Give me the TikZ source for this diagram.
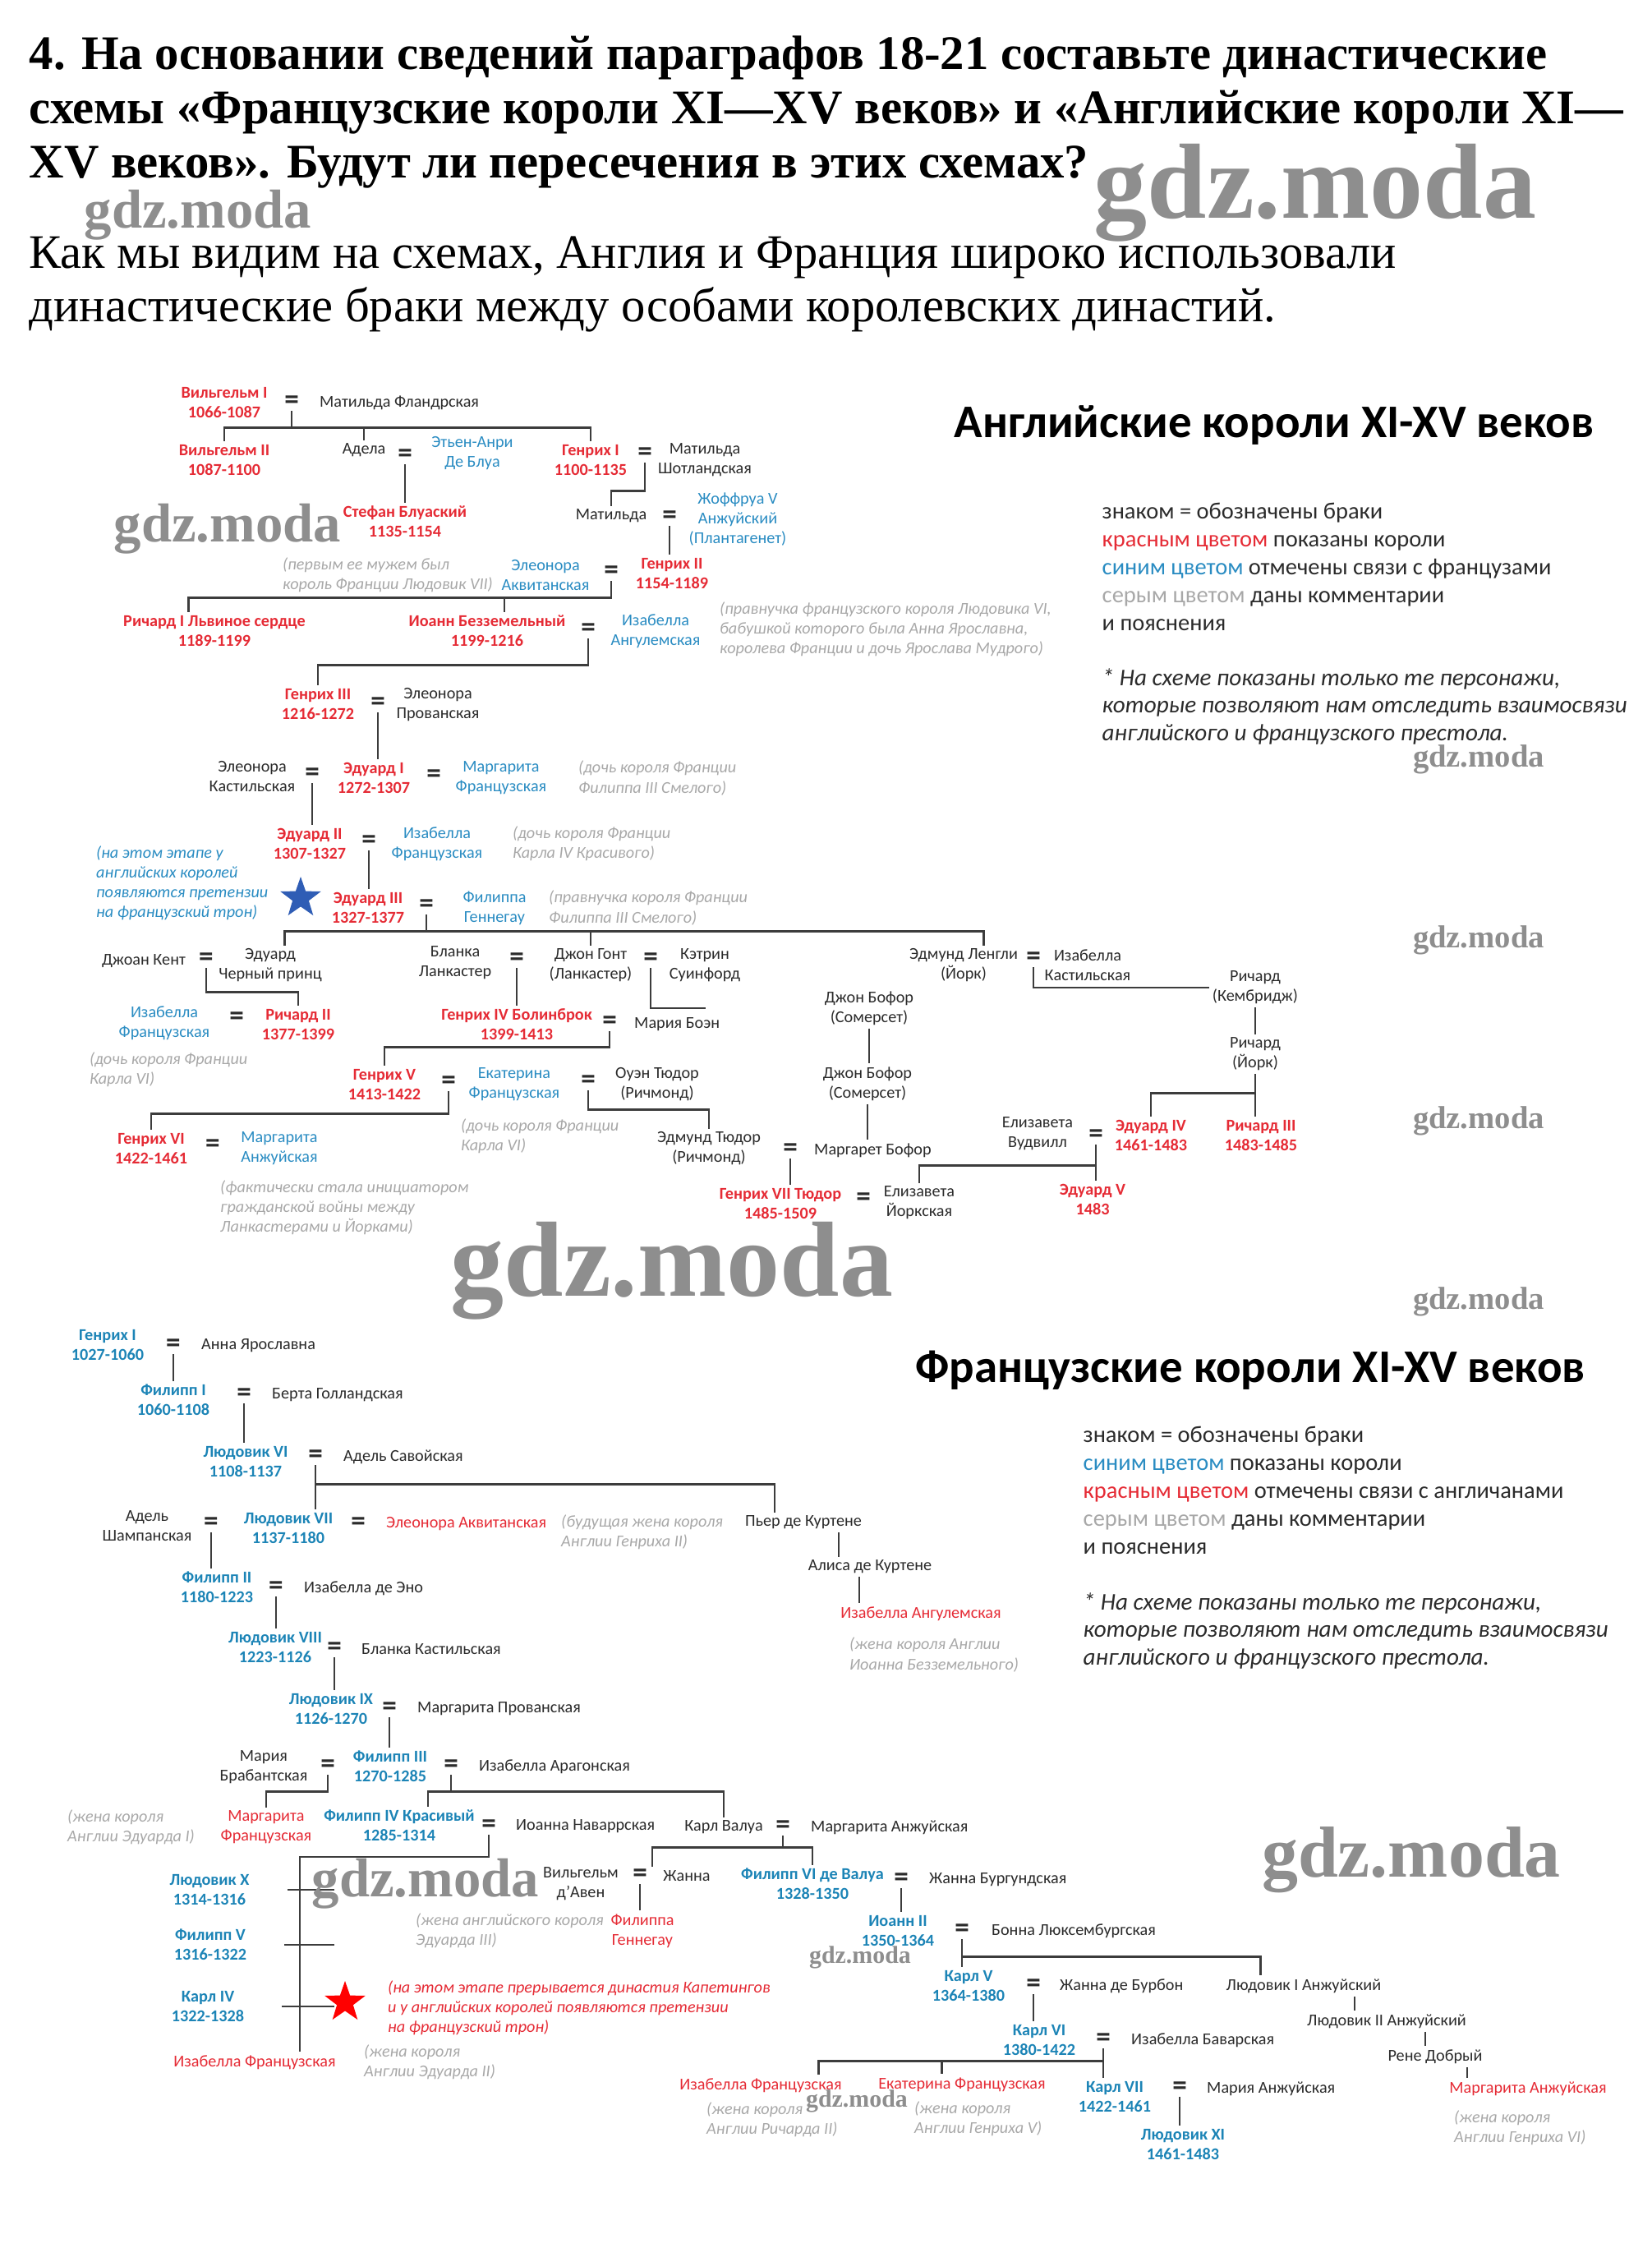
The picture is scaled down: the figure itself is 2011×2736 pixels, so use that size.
\documentclass[tikz,border=0pt]{standalone}
\usepackage{fontspec}
\setmainfont{Liberation Serif}
\newfontfamily\calib{Carlito}
\usepackage{xcolor}
\usepackage{tikz}
\usetikzlibrary{positioning, calc, shapes.geometric}

\definecolor{kred}{HTML}{E52B35}
\definecolor{kblue}{HTML}{2A8CC2}
\definecolor{fblue}{HTML}{1C84B6}
\definecolor{remarkgray}{HTML}{A8A8A8}
\definecolor{ink}{HTML}{2B2B2B}
\definecolor{linegray}{HTML}{3C3C3C}
\definecolor{starblue}{HTML}{2F5DB5}
\definecolor{stampgray}{HTML}{8E8E8E}

\newcommand\treesize{\fontsize{5.75}{6.85}\selectfont}

\begin{document}
\begin{tikzpicture}[x=0.1mm, y=-0.1mm]

% Styles
\tikzset{
	king/.style={font=\calib\bfseries\treesize, text=kred, align=center, inner sep=1pt},
	fking/.style={font=\calib\bfseries\treesize, text=fblue, align=center, inner sep=1pt},
	person/.style={font=\calib\treesize, text=ink, align=center, inner sep=1pt},
	tieblue/.style={person, text=kblue},
	tiered/.style={person, text=kred},
	remark/.style={font=\calib\itshape\treesize, text=remarkgray, align=left, anchor=west, inner sep=1pt},
	wed/.style={font=\calib\bfseries\fontsize{10}{10}\selectfont, text=ink, inner sep=0.5pt},
	kin/.style={draw=linegray, line width=0.75pt},
	heading/.style={font=\bfseries\fontsize{16.7}{18}\selectfont, anchor=base west, inner sep=0pt},
	bodytext/.style={font=\fontsize{16.65}{18}\selectfont, anchor=base west, inner sep=0pt},
	charttitle/.style={font=\calib\bfseries\fontsize{16.2}{18}\selectfont, text=black, inner sep=0pt},
	legend/.style={font=\calib\fontsize{8.1}{9.7}\selectfont, text=ink, align=left, anchor=west, inner sep=0pt},
	footnote/.style={font=\calib\itshape\fontsize{8.3}{9.4}\selectfont, text=ink, align=left, anchor=west, inner sep=0pt},
	stamp/.style={font=\bfseries, text=stampgray, inner sep=0pt},
	crown/.style={star, star points=5, star point ratio=2.5, minimum size=5.2mm, inner sep=0pt}
}

\useasboundingbox (0,0) rectangle (2011,2736);

% Question and answer
\node (q1) [heading] at (35,84) {4. На основании сведений параграфов 18-21 составьте династические};
\node (q2) [heading] at (35,150) {схемы «Французские короли XI—XV веков» и «Английские короли XI—};
\node (q3) [heading] at (35,216) {XV веков». Будут ли пересечения в этих схемах?};
\node (a1) [bodytext] at (35,326) {Как мы видим на схемах, Англия и Франция широко использовали};
\node (a2) [bodytext] at (35,391) {династические браки между особами королевских династий.};

% English chart: title and legend
\node (etitle) [charttitle] at (1551,518) {Английские короли XI-XV веков};
\node (elegend) [legend] at (1341,690) {знаком = обозначены браки\\
	\textcolor{kred}{красным цветом} показаны короли\\
	\textcolor{kblue}{синим цветом} отмечены связи с французами\\
	\textcolor{remarkgray}{серым цветом} даны комментарии\\
	и пояснения};
\node (enote) [footnote] at (1341,860) {* На схеме показаны только те персонажи,\\
	которые позволяют нам отследить взаимосвязи\\
	английского и французского престола.};

% Normans
\node (ewil1) [king] at (273,490) {Вильгельм I\\1066-1087};
\node (eqW1) [wed] at (355,490) {=};
\node (emfl) [person, anchor=west] at (385,490) {Матильда Фландрская};
\node (ewil2) [king] at (273,560) {Вильгельм II\\1087-1100};
\node (eadela) [person] at (443,548) {Адела};
\node (eqAd) [wed] at (493,555) {=};
\node (eetien) [tieblue] at (575,552) {Этьен-Анри\\Де Блуа};
\node (estef) [king] at (493,635) {Стефан Блуаский\\1135-1154};
\node (ehen1) [king] at (719,560) {Генрих I\\1100-1135};
\node (eqH1) [wed] at (785,553) {=};
\node (emsco) [person] at (858,560) {Матильда\\Шотландская};
\node (emat) [person] at (744,628) {Матильда};
\node (eqMat) [wed] at (815,630) {=};
\node (egeof) [tieblue] at (898,632) {Жоффруа V\\Анжуйский\\(Плантагенет)};

% Plantagenets
\node (ehen2) [king] at (818,698) {Генрих II\\1154-1189};
\node (eqH2) [wed] at (744,697) {=};
\node (eelea) [tieblue] at (664,700) {Элеонора\\Аквитанская};
\node (eremA) [remark] at (340,700) {(первым ее мужем был\\король Франции Людовик VII)};
\node (eric1) [king] at (261,768) {Ричард I Львиное сердце\\1189-1199};
\node (ejohn) [king] at (593,768) {Иоанн Безземельный\\1199-1216};
\node (eqJohn) [wed] at (716,767) {=};
\node (eisang) [tieblue] at (798,768) {Изабелла\\Ангулемская};
\node (eremB) [remark] at (872,766) {(правнучка французского короля Людовика VI,\\бабушкой которого была Анна Ярославна,\\королева Франции и дочь Ярослава Мудрого)};
\node (ehen3) [king] at (387,857) {Генрих III\\1216-1272};
\node (eqH3) [wed] at (460,857) {=};
\node (eelprov) [person] at (533,858) {Элеонора\\Прованская};
\node (eelcas) [person] at (307,945) {Элеонора\\Кастильская};
\node (eqE1L) [wed] at (380,943) {=};
\node (eed1) [king] at (455,947) {Эдуард I\\1272-1307};
\node (eqE1R) [wed] at (528,945) {=};
\node (emarfr) [tieblue] at (610,947) {Маргарита\\Французская};
\node (eremC) [remark] at (700,947) {(дочь короля Франции\\Филиппа III Смелого)};
\node (eed2) [king] at (377,1027) {Эдуард II\\1307-1327};
\node (eqE2) [wed] at (449,1025) {=};
\node (eisfr) [tieblue] at (532,1027) {Изабелла\\Французская};
\node (eremD) [remark] at (620,1027) {(дочь короля Франции\\Карла IV Красивого)};
\node (eed3) [king] at (448,1105) {Эдуард III\\1327-1377};
\node (eqE3) [wed] at (519,1103) {=};
\node (ephil) [tieblue] at (602,1105) {Филиппа\\Геннегау};
\node (eremE) [remark] at (664,1105) {(правнучка короля Франции\\Филиппа III Смелого)};
\node (estar) [crown, fill=starblue] at (366,1093) {};
\node (eclaim) [remark, text=kblue] at (113,1075) {(на этом этапе у\\английских королей\\появляются претензии\\на французский трон)};

% Sons of Edward III
\node (ekent) [person] at (175,1170) {Джоан Кент};
\node (eqKent) [wed] at (251,1168) {=};
\node (eblack) [person] at (329,1175) {Эдуард\\Черный принц};
\node (eisfr2) [tieblue] at (200,1245) {Изабелла\\Французская};
\node (eqR2) [wed] at (288,1240) {=};
\node (eric2) [king] at (363,1247) {Ричард II\\1377-1399};
\node (eremF) [remark] at (105,1302) {(дочь короля Франции\\Карла VI)};
\node (eblanca) [person] at (554,1172) {Бланка\\Ланкастер};
\node (eqBl) [wed] at (629,1168) {=};
\node (egaunt) [person] at (719,1175) {Джон Гонт\\(Ланкастер)};
\node (eqKat) [wed] at (792,1168) {=};
\node (ekat) [person] at (858,1175) {Кэтрин\\Суинфорд};
\node (elangley) [person] at (1173,1175) {Эдмунд Ленгли\\(Йорк)};
\node (eqLang) [wed] at (1258,1167) {=};
\node (eiscas) [person] at (1324,1175) {Изабелла\\Кастильская};

% Lancaster
\node (ehen4) [king] at (629,1247) {Генрих IV Болинброк\\1399-1413};
\node (eqH4) [wed] at (742,1245) {=};
\node (ebohun) [person, anchor=west] at (768,1247) {Мария Боэн};
\node (ehen5) [king] at (468,1320) {Генрих V\\1413-1422};
\node (eqH5) [wed] at (546,1318) {=};
\node (ecath) [tieblue] at (626,1320) {Екатерина\\Французская};
\node (eqOwen) [wed] at (716,1317) {=};
\node (eowen) [person] at (800,1320) {Оуэн Тюдор\\(Ричмонд)};
\node (eremG) [remark] at (557,1383) {(дочь короля Франции\\Карла VI)};
\node (ehen6) [king] at (184,1398) {Генрих VI\\1422-1461};
\node (eqH6) [wed] at (259,1395) {=};
\node (emaranj) [tieblue] at (340,1398) {Маргарита\\Анжуйская};
\node (eremH) [remark] at (264,1470) {(фактически стала инициатором\\гражданской войны между\\Ланкастерами и Йорками)};

% Beaufort and Tudor
\node (ebeauf1) [person] at (1058,1227) {Джон Бофор\\(Сомерсет)};
\node (ebeauf2) [person] at (1056,1319) {Джон Бофор\\(Сомерсет)};
\node (eedmt) [person] at (863,1398) {Эдмунд Тюдор\\(Ричмонд)};
\node (eqEdm) [wed] at (962,1400) {=};
\node (emargb) [person, anchor=west] at (987,1400) {Маргарет Бофор};
\node (ehen7) [king] at (950,1465) {Генрих VII Тюдор\\1485-1509};
\node (eqH7) [wed] at (1051,1460) {=};
\node (eelyork) [person] at (1119,1464) {Елизавета\\Йоркская};

% York
\node (ericc) [person] at (1528,1202) {Ричард\\(Кембридж)};
\node (ericy) [person] at (1528,1283) {Ричард\\(Йорк)};
\node (eelwood) [person] at (1263,1380) {Елизавета\\Вудвилл};
\node (eqEd4) [wed] at (1334,1383) {=};
\node (eed4) [king] at (1401,1382) {Эдуард IV\\1461-1483};
\node (eric3) [king] at (1535,1382) {Ричард III\\1483-1485};
\node (eed5) [king] at (1330,1460) {Эдуард V\\1483};

% English lines
\foreach \c in {ewil2, eadela, ehen1}
	\draw[kin] (eqW1.south) -- ++(0,20) -| (\c.north);
\draw[kin] (eqAd.south) -- (eqAd.south |- estef.north);
\draw[kin] (eqH1.south) -- ++(0,34) -| (emat.north);
\draw[kin] (eqMat.south) -- (eqMat.south |- ehen2.north);
\draw[kin] (eqH2.south) -- ++(0,20) -| ([xshift=-9]eric1.north);
\draw[kin] (eqH2.south) -- ++(0,20) -| ([xshift=6]ejohn.north);
\draw[kin] (eqJohn.south) -- ++(0,32) -| (ehen3.north);
\draw[kin] (eqH3.south) -- (eqH3.south |- eed1.north);
\draw[kin] (eqE1L.south) -- (eqE1L.south |- eed2.north);
\draw[kin] (eqE2.south) -- (eqE2.south |- eed3.north);
\draw[kin] (eqE3.south) -- ++(0,20) -| ([xshift=5]eblack.north);
\draw[kin] (eqE3.south) -- ++(0,20) -| (egaunt.north);
\draw[kin] (eqE3.south) -- ++(0,20) -| ([xshift=7]elangley.north);
\draw[kin] (eqKent.south) -- ++(0,29) -| (eric2.north);
\draw[kin] (eqBl.south) -- (eqBl.south |- ehen4.north);
\draw[kin] (eqKat.south) |- ([xshift=-40]ebeauf1.west);
\draw[kin] (ebeauf1.south) -- (ebeauf1.south |- ebeauf2.north);
\draw[kin] (ebeauf2.south) -- (ebeauf2.south |- emargb.north);
\draw[kin] (eqH4.south) -- ++(0,19) -| (ehen5.north);
\draw[kin] (eqH5.south) -- ++(0,27) -| (ehen6.north);
\draw[kin] (eqOwen.south) -- ++(0,23) -| (eedmt.north);
\draw[kin] (eqEdm.south) -- (eqEdm.south |- ehen7.north);
\draw[kin] (eqLang.south) |- (ericc.west);
\draw[kin] (ericc.south) -- (ericc.south |- ericy.north);
\draw[kin] (ericy.south) -- ++(0,23) -| (eed4.north);
\draw[kin] (ericy.south) -- (ericy.south |- eric3.north);
\draw[kin] (eqEd4.south) -- ++(0,25) -| (eelyork.north);
\draw[kin] (eqEd4.south) -- (eqEd4.south |- eed5.north);

% French chart: title and legend
\node (ftitle) [charttitle] at (1522,1668) {Французские короли XI-XV веков};
\node (flegend) [legend] at (1318,1814) {знаком = обозначены браки\\
	\textcolor{kblue}{синим цветом} показаны короли\\
	\textcolor{kred}{красным цветом} отмечены связи с англичанами\\
	\textcolor{remarkgray}{серым цветом} даны комментарии\\
	и пояснения};
\node (fnote) [footnote] at (1318,1985) {* На схеме показаны только те персонажи,\\
	которые позволяют нам отследить взаимосвязи\\
	английского и французского престола.};

% Capetians
\node (fhen1) [fking] at (131,1637) {Генрих I\\1027-1060};
\node (fqH1) [wed] at (211,1638) {=};
\node (fanna) [person, anchor=west] at (241,1638) {Анна Ярославна};
\node (fphil1) [fking] at (211,1704) {Филипп I\\1060-1108};
\node (fqP1) [wed] at (297,1698) {=};
\node (fberta) [person, anchor=west] at (327,1698) {Берта Голландская};
\node (flou6) [fking] at (299,1779) {Людовик VI\\1108-1137};
\node (fqL6) [wed] at (384,1773) {=};
\node (fadsav) [person, anchor=west] at (414,1773) {Адель Савойская};
\node (fadcham) [person] at (179,1857) {Адель\\Шампанская};
\node (fqL7a) [wed] at (257,1855) {=};
\node (flou7) [fking] at (351,1860) {Людовик VII\\1137-1180};
\node (fqL7b) [wed] at (436,1855) {=};
\node (feleo) [tiered, anchor=west] at (466,1855) {Элеонора Аквитанская};
\node (fremA) [remark] at (679,1865) {(будущая жена короля\\Англии Генриха II)};
\node (fpierre) [person] at (978,1853) {Пьер де Куртене};
\node (falice) [person] at (1059,1907) {Алиса де Куртене};
\node (fisang) [tiered] at (1121,1964) {Изабелла Ангулемская};
\node (fremB) [remark] at (1030,2014) {(жена короля Англии\\Иоанна Безземельного)};
\node (fphil2) [fking] at (264,1932) {Филипп II\\1180-1223};
\node (fqP2) [wed] at (336,1933) {=};
\node (fisheno) [person, anchor=west] at (366,1933) {Изабелла де Эно};
\node (flou8) [fking] at (335,2005) {Людовик VIII\\1223-1126};
\node (fqL8) [wed] at (407,2007) {=};
\node (fblanca) [person, anchor=west] at (436,2007) {Бланка Кастильская};
\node (flou9) [fking] at (403,2080) {Людовик IX\\1126-1270};
\node (fqL9) [wed] at (474,2080) {=};
\node (fmarprov) [person, anchor=west] at (504,2080) {Маргарита Прованская};
\node (fmarbra) [person] at (321,2151) {Мария\\Брабантская};
\node (fqP3a) [wed] at (399,2150) {=};
\node (fphil3) [fking] at (475,2150) {Филипп III\\1270-1285};
\node (fqP3b) [wed] at (549,2150) {=};
\node (fisarag) [person, anchor=west] at (579,2150) {Изабелла Арагонская};
\node (fmarfr) [tiered] at (324,2224) {Маргарита\\Французская};
\node (fremC) [remark] at (78,2224) {(жена короля\\Англии Эдуарда I)};
\node (fphil4) [fking] at (486,2222) {Филипп IV Красивый\\1285-1314};
\node (fqP4) [wed] at (595,2223) {=};
\node (fjnav) [person, anchor=west] at (624,2223) {Иоанна Наваррская};
\node (fcharles) [person] at (881,2224) {Карл Валуа};
\node (fqCV) [wed] at (953,2224) {=};
\node (fmaranj) [person, anchor=west] at (983,2224) {Маргарита Анжуйская};

% Last Capetians
\coordinate (fspine) at (365,2260);
\node (flou10) [fking] at (255,2300) {Людовик X\\1314-1316};
\node (fphil5) [fking] at (256,2367) {Филипп V\\1316-1322};
\node (fchar4) [fking] at (253,2442) {Карл IV\\1322-1328};
\node (fisfr) [tiered] at (310,2510) {Изабелла Французская};
\node (fremD) [remark] at (439,2510) {(жена короля\\Англии Эдуарда II)};
\node (fstar) [crown, fill=red] at (420,2437) {};
\node (fclaim) [remark, text=kred] at (468,2444) {(на этом этапе прерывается династия Капетингов\\и у английских королей появляются претензии\\на французский трон)};

% Valois
\node (fwill) [person] at (707,2293) {Вильгельм\\д’Авен};
\node (fqWA) [wed] at (779,2283) {=};
\node (fjeanne) [person] at (836,2283) {Жанна};
\node (fphilg) [tiered] at (782,2350) {Филиппа\\Геннегау};
\node (fremE) [remark] at (502,2350) {(жена английского короля\\Эдуарда III)};
\node (fphil6) [fking] at (989,2293) {Филипп VI де Валуа\\1328-1350};
\node (fqP6) [wed] at (1097,2288) {=};
\node (fjburg) [person, anchor=west] at (1127,2288) {Жанна Бургундская};
\node (fjean2) [fking] at (1093,2350) {Иоанн II\\1350-1364};
\node (fqJ2) [wed] at (1171,2350) {=};
\node (fbonne) [person, anchor=west] at (1203,2350) {Бонна Люксембургская};
\node (fchar5) [fking] at (1179,2417) {Карл V\\1364-1380};
\node (fqC5) [wed] at (1258,2417) {=};
\node (fjbour) [person, anchor=west] at (1286,2417) {Жанна де Бурбон};
\node (flanj1) [person] at (1587,2417) {Людовик I Анжуйский};
\node (flanj2) [person] at (1688,2460) {Людовик II Анжуйский};
\node (frene) [person] at (1747,2503) {Рене Добрый};
\node (fmaranj2) [tiered] at (1860,2542) {Маргарита Анжуйская};
\node (fremF) [remark] at (1766,2590) {(жена короля\\Англии Генриха VI)};
\node (fchar6) [fking] at (1265,2483) {Карл VI\\1380-1422};
\node (fqC6) [wed] at (1343,2483) {=};
\node (fisbav) [person, anchor=west] at (1373,2483) {Изабелла Баварская};
\node (fisfr2) [tiered] at (926,2538) {Изабелла Французская};
\node (fremG) [remark] at (856,2580) {(жена короля\\Англии Ричарда II)};
\node (fcath) [tiered] at (1171,2537) {Екатерина Французская};
\node (fremH) [remark] at (1109,2579) {(жена короля\\Англии Генриха V)};
\node (fchar7) [fking] at (1357,2552) {Карл VII\\1422-1461};
\node (fqC7) [wed] at (1436,2542) {=};
\node (fmarieanj) [person, anchor=west] at (1465,2542) {Мария Анжуйская};
\node (flou11) [fking] at (1440,2610) {Людовик XI\\1461-1483};

% French lines
\draw[kin] (fqH1.south) -- (fqH1.south |- fphil1.north);
\draw[kin] (fqP1.south) -- (fqP1.south |- flou6.north);
\draw[kin] (fqL6.south) -- (fqL6.south |- flou7.north);
\draw[kin] (fqL6.south) -- ++(0,23) -| ([xshift=-10]fpierre.north);
\draw[kin] ($(fpierre.south)+(43,0)$) -- ($(falice.north)+(-38,0)$);
\draw[kin] ($(falice.south)+(-13,0)$) -- ($(fisang.north)+(-75,0)$);
\draw[kin] (fqL7a.south) -- (fqL7a.south |- fphil2.north);
\draw[kin] (fqP2.south) -- (fqP2.south |- flou8.north);
\draw[kin] (fqL8.south) -- (fqL8.south |- flou9.north);
\draw[kin] (fqL9.south) -- (fqL9.south |- fphil3.north);
\draw[kin] (fqP3a.south) -- ++(0,20) -| (fmarfr.north);
\draw[kin] (fqP3b.south) -- ++(0,20) -| ([xshift=10]fphil4.north);
\draw[kin] (fqP3b.south) -- ++(0,20) -| (fcharles.north);
\draw[kin] (fqP4.south) |- (fspine) -- (fspine |- fisfr.north);
\foreach \k in {flou10, fphil5, fchar4}
	\draw[kin] ([xshift=12]\k.east) -- ([xshift=12]\k.east -| fspine);
\draw[kin] (fqCV.south) -- ++(0,14) -| ([xshift=-12]fjeanne.north);
\draw[kin] (fqCV.south) -- ++(0,14) -| (fphil6.north);
\draw[kin] (fqWA.south) -- (fqWA.south |- fphilg.north);
\draw[kin] (fqP6.south) -- (fqP6.south |- fjean2.north);
\draw[kin] (fqJ2.south) -- (fqJ2.south |- fchar5.north);
\draw[kin] (fqJ2.south) -- ++(0,21) -| ([xshift=-15]flanj1.north);
\draw[kin] ($(flanj1.south)+(62,0)$) -- ($(flanj2.north)+(-39,0)$);
\draw[kin] ($(flanj2.south)+(47,0)$) -- ($(frene.north)+(-12,0)$);
\draw[kin] ($(frene.south)+(39,0)$) -- ($(fmaranj2.north)+(-74,0)$);
\draw[kin] (fqC5.south) -- (fqC5.south |- fchar6.north);
\draw[kin] (fqC6.south) -- ++(0,15) -| ([xshift=20]fisfr2.north);
\draw[kin] (fqC6.south) -- ++(0,15) -| ([xshift=-7]fcath.north);
\draw[kin] (fqC6.south) -- (fqC6.south |- fchar7.north);
\draw[kin] (fqC7.south) -- (fqC7.south |- flou11.north);

% Watermarks
\node (wm1) [stamp, font=\bfseries\fontsize{37}{37}\selectfont] at (1601,235) {gdz.moda};
\node (wm2) [stamp, font=\bfseries\fontsize{19}{19}\selectfont] at (241,262) {gdz.moda};
\node (wm3) [stamp, font=\bfseries\fontsize{19}{19}\selectfont] at (277,644) {gdz.moda};
\node (wm4) [stamp, font=\bfseries\fontsize{11}{11}\selectfont] at (1800,924) {gdz.moda};
\node (wm5) [stamp, font=\bfseries\fontsize{11}{11}\selectfont] at (1800,1144) {gdz.moda};
\node (wm6) [stamp, font=\bfseries\fontsize{11}{11}\selectfont] at (1800,1364) {gdz.moda};
\node (wm7) [stamp, font=\bfseries\fontsize{37}{37}\selectfont] at (818,1547) {gdz.moda};
\node (wm8) [stamp, font=\bfseries\fontsize{11}{11}\selectfont] at (1800,1584) {gdz.moda};
\node (wm9) [stamp, font=\bfseries\fontsize{25}{25}\selectfont] at (1718,2264) {gdz.moda};
\node (wm10) [stamp, font=\bfseries\fontsize{19}{19}\selectfont] at (518,2293) {gdz.moda};
\node (wm11) [stamp, font=\bfseries\fontsize{8.5}{8.5}\selectfont] at (1047,2382) {gdz.moda};
\node (wm12) [stamp, font=\bfseries\fontsize{8.5}{8.5}\selectfont] at (1043,2557) {gdz.moda};

\end{tikzpicture}
\end{document}
